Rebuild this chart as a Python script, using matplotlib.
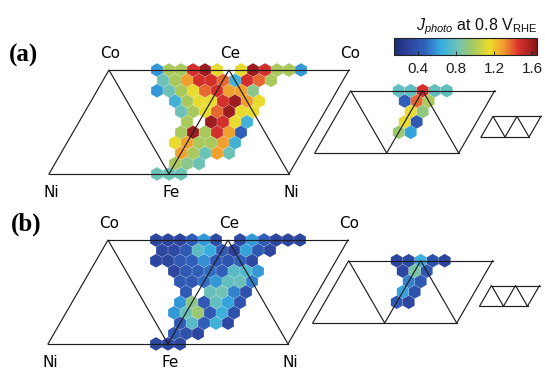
import numpy as np
import matplotlib
matplotlib.use("Agg")
import matplotlib.pyplot as plt
from matplotlib.patches import RegularPolygon
from matplotlib.collections import PatchCollection
from matplotlib.colors import LinearSegmentedColormap, Normalize
from matplotlib.cm import ScalarMappable

nan = np.nan

# ---------------------------------------------------------------------------
# Composition grid: rows run from the Co-Ce edge (row 0) down to the Ni-Fe edge.
# Each row starts at the given lattice column (half-spacing units from Ce);
# columns step by 2 along a row.  nan = no sample at that spot.
# ---------------------------------------------------------------------------
main_row_start = [-12, -11, -12, -9, -8, -7, -8, -9, -8, -9, -12]
small_row_start = [-4, -3, -2, -3, -4]

# J_photo at 0.8 V_RHE (mA cm^-2), quaternary layer
jphoto_a_main = [
    [0.60, 0.99, 0.99, 1.47, 1.60, 1.14, nan, 1.14, 1.60, 1.47, 0.99, 0.99, 0.60],
    [0.81, 0.99, 1.29, 1.47, 1.47, 1.38, 0.68, 1.47, 1.38, 0.99],
    [0.60, 0.81, 0.99, 1.14, 1.38, 1.47, 1.29, 1.29, 0.90],
    [0.68, 0.99, 1.14, 1.14, 1.47, 1.60, 1.29, 1.14],
    [0.81, 0.99, 1.14, 1.38, 1.60, 1.14, 1.14],
    [0.99, nan, 1.60, 1.47, 1.14, 0.68],
    [0.99, 1.60, 0.99, 1.47, 1.29, 0.45],
    [1.14, 1.29, 0.99, 0.99, 1.29, 0.68],
    [1.29, 0.99, 0.81, 1.29, 0.81],
    [0.99, 0.90, 0.81],
    [0.81, 0.81, 0.81],
]
jphoto_a_small = [
    [0.78, 0.78, 1.47, 0.78, 0.78],
    [0.45, 1.38, 1.00],
    [1.14, 0.92],
    [1.14, 0.42],
    [0.95, 0.62],
]

jphoto_b_main = [
    [0.32, 0.32, 0.32, 0.45, 0.60, 0.35, nan, 0.35, 0.60, 0.45, 0.32, 0.32, 0.32],
    [0.32, 0.34, 0.42, 0.76, 0.65, 0.42, 0.30, 0.62, 0.42, 0.33],
    [0.32, 0.33, 0.42, 0.45, 0.58, 0.42, 0.40, 0.45, 0.34],
    [0.33, 0.42, 0.45, 0.50, 0.45, 0.75, 0.72, 0.60],
    [0.42, 0.42, 0.50, 0.60, 0.78, 0.80, 0.55],
    [0.42, nan, 0.80, 0.82, 0.55, 0.38],
    [0.60, 0.90, 0.42, 0.78, 0.62, 0.40],
    [0.60, 0.80, 0.95, 0.42, 0.66, 0.38],
    [0.42, 0.75, 0.45, 0.68, 0.34],
    [0.42, 0.38, 0.33],
    [0.33, 0.32, 0.33],
]
jphoto_b_small = [
    [0.32, 0.35, 0.66, 0.38, 0.32],
    [0.33, 0.85, 0.42],
    [0.55, 0.42],
    [0.62, 0.40],
    [0.42, 0.33],
]

cbar_ticks = [0.4, 0.8, 1.2, 1.6]
cbar_range = (0.15, 1.65)

# ---------------------------------------------------------------------------
# Layout (figure pixels, y downward)
# ---------------------------------------------------------------------------
W, HGT = 545, 370
S = 12.0                     # hexagon spacing along a row
H = S * np.sqrt(3) / 2       # row spacing
R = S / np.sqrt(3)           # hexagon circumradius

panels = {
    "a": dict(main=(229, 70), small=(422.7, 90.7), tiny=(517, 116.3),
              main_vals=jphoto_a_main, small_vals=jphoto_a_small, label_xy=(24, 55)),
    "b": dict(main=(228, 240), small=(420.7, 260.7), tiny=(515.5, 285.5),
              main_vals=jphoto_b_main, small_vals=jphoto_b_small, label_xy=(26, 224)),
}

cmap = LinearSegmentedColormap.from_list("jphoto", [
    (0.00, "#1c2b76"),
    (0.10, "#2c429c"),
    (0.22, "#3164bd"),
    (0.33, "#36ade0"),
    (0.45, "#72c4b4"),
    (0.56, "#a9c95c"),
    (0.67, "#efdc2a"),
    (0.77, "#ef9a30"),
    (0.87, "#dc332d"),
    (1.00, "#86161b"),
])
norm = Normalize(*cbar_range)

fig = plt.figure(figsize=(W / 100, HGT / 100), dpi=100)
ax = fig.add_axes([0, 0, 1, 1])
ax.set_xlim(0, W)
ax.set_ylim(HGT, 0)
ax.axis("off")

LINE = dict(color="#1e1e1e", lw=0.85, solid_joinstyle="miter", zorder=3)


def draw_hexes(apex, starts, rows):
    patches, vals = [], []
    for r, (j0, row) in enumerate(zip(starts, rows)):
        for k, v in enumerate(row):
            if np.isnan(v):
                continue
            j = j0 + 2 * k
            x = apex[0] + j * S / 2
            y = apex[1] + r * H
            patches.append(RegularPolygon((x, y), 6, radius=R * 0.98, orientation=0))
            vals.append(v)
    pc = PatchCollection(patches, cmap=cmap, norm=norm, edgecolor="none",
                         linewidth=0, zorder=1)
    pc.set_array(np.array(vals))
    ax.add_collection(pc)


def draw_frame(apex, n):
    x0, y0 = apex
    L, D = n * S, n * H
    ax.plot([x0 - 1.5 * L, x0 - L, x0 - 0.5 * L, x0, x0 + 0.5 * L, x0 + L],
            [y0 + D, y0, y0 + D, y0, y0 + D, y0], **LINE)
    ax.plot([x0 - L, x0 + L], [y0, y0], **LINE)
    ax.plot([x0 - 1.5 * L, x0 + 0.5 * L], [y0 + D, y0 + D], **LINE)


vertex_font = dict(family="DejaVu Sans", fontsize=11, ha="center", va="center")

for key, p in panels.items():
    draw_hexes(p["main"], main_row_start, p["main_vals"])
    draw_hexes(p["small"], small_row_start, p["small_vals"])
    draw_frame(p["main"], 10)
    draw_frame(p["small"], 6)
    draw_frame(p["tiny"], 2)

    cx, cy = p["main"]
    L, D = 10 * S, 10 * H
    for name, dx in (("Co", -L), ("Ce", 0), ("Co", L)):
        ax.text(cx + dx + 1, cy - 17, name, **vertex_font)
    for name, dx in (("Ni", -1.5 * L), ("Fe", -0.5 * L), ("Ni", 0.5 * L)):
        ax.text(cx + dx + 2, cy + D + 19, name, **vertex_font)

    ax.text(*p["label_xy"], f"({key})", family="Liberation Serif", weight="bold",
            fontsize=18, ha="center", va="center")

# colour bar
plt.rcParams["mathtext.fontset"] = "custom"
plt.rcParams["mathtext.rm"] = "Liberation Sans"
plt.rcParams["mathtext.it"] = "Liberation Sans:italic"

cb_left, cb_top, cb_w, cb_h = 394, 37.7, 143, 17.3
cax = fig.add_axes([cb_left / W, 1 - (cb_top + cb_h) / HGT, cb_w / W, cb_h / HGT])
cb = fig.colorbar(ScalarMappable(norm=norm, cmap=cmap), cax=cax,
                  orientation="horizontal", ticks=cbar_ticks)
cb.outline.set_linewidth(0.8)
cb.outline.set_edgecolor("#222222")
cax.tick_params(direction="in", length=3, width=0.6, pad=5, labelsize=11,
                colors="#1e1e1e")
for t in cax.get_xticklabels():
    t.set_family("Liberation Sans")
cax.set_xticklabels([f"{t:.1f}" for t in cbar_ticks])

fig.text(477 / W, 1 - 27 / HGT,
         r"$\mathit{J}_{\mathit{photo}}$ at 0.8 V$_{\mathrm{RHE}}$",
         family="Liberation Sans", fontsize=11.5, ha="center", va="center",
         color="#111111")

fig.savefig("out.png", dpi=100)
